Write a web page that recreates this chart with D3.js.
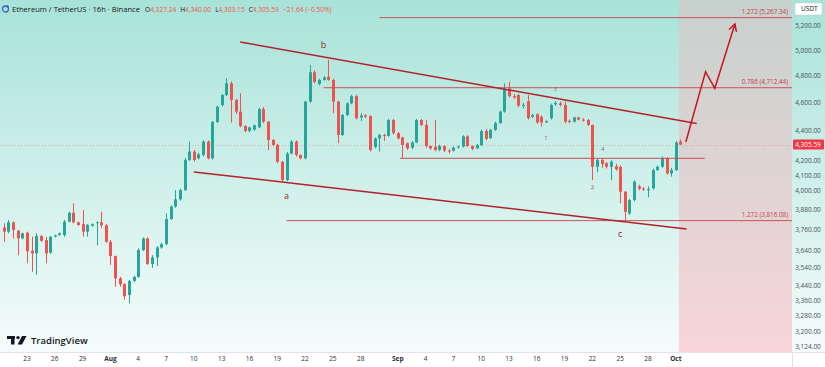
<!DOCTYPE html>
<html>
<head>
<meta charset="utf-8">
<script src="https://cdn.jsdelivr.net/npm/d3@7"></script>
<style>
  body { margin: 0; background: #ffffff; }
  svg { display: block; font-family: "Open Sans", "Noto Sans", sans-serif; }
</style>
</head>
<body>
<div id="chart"></div>
<script>
// ETH/USDT candles (one bar every 12h, first bar Jul 20 12:00)
var opens = [3775,3750,3806,3756,3710,3744,3638,3623,3724,3700,3627,3720,3730,3730,3810,3864,3806,3795,3750,3785,
  3800,3806,3788,3690,3607,3482,3450,3391,3468,3490,3642,3710,3563,3600,3657,3676,3826,3902,3947,4006,
  4202,4258,4213,4235,4326,4213,4463,4585,4658,4745,4622,4537,4435,4400,4410,4425,4555,4465,4337,4303,
  4190,4070,4245,4326,4235,4213,4610,4830,4740,4771,4795,4771,4610,4372,4513,4597,4650,4495,4510,4505,
  4290,4348,4372,4365,4477,4385,4355,4315,4285,4320,4477,4442,4296,4292,4269,4296,4265,4265,4285,4292,
  4362,4296,4280,4303,4400,4350,4407,4455,4537,4708,4650,4658,4580,4612,4500,4518,4500,4460,4490,4590,
  4597,4585,4470,4465,4495,4480,4477,4442,4157,4202,4180,4157,4160,4157,3995,3860,3943,4030,4015,4005,
  4017,4135,4157,4213,4113,4135,4327.24];
var highs = [3800,3820,3810,3760,3744,3750,3720,3740,3730,3720,3724,3732,3745,3820,3870,3922,3810,3881,3795,3800,
  3812,3870,3795,3700,3610,3490,3455,3473,3495,3652,3716,3716,3613,3665,3685,3860,3910,4006,4015,4215,
  4326,4270,4250,4335,4335,4470,4580,4665,4785,4760,4630,4670,4440,4430,4445,4565,4570,4470,4345,4310,
  4195,4255,4335,4335,4240,4615,4886,4845,4780,4800,4924,4780,4615,4520,4605,4660,4660,4525,4520,4510,
  4355,4380,4380,4485,4485,4392,4360,4320,4330,4485,4485,4477,4300,4477,4305,4302,4275,4292,4300,4370,
  4370,4300,4310,4408,4415,4415,4465,4545,4745,4758,4665,4665,4600,4658,4520,4525,4510,4475,4595,4615,
  4610,4610,4480,4500,4500,4490,4485,4445,4210,4215,4190,4200,4175,4165,4000,3950,4068,4040,4025,4030,
  4145,4165,4225,4222,4150,4330,4340];
var lows = [3690,3740,3710,3613,3704,3567,3519,3501,3690,3567,3620,3716,3725,3720,3805,3800,3785,3720,3720,3780,
  3671,3770,3684,3557,3436,3436,3365,3347,3460,3485,3636,3557,3540,3552,3650,3670,3820,3895,3940,4000,
  4195,4190,4205,4225,4205,4205,4455,4575,4650,4460,4520,4425,4390,4390,4400,4420,4455,4269,4295,4180,
  4060,4062,4240,4225,4205,4205,4600,4745,4730,4765,4765,4525,4315,4365,4505,4590,4480,4470,4490,4258,
  4280,4258,4330,4360,4375,4340,4213,4270,4275,4315,4435,4285,4270,4260,4260,4255,4245,4258,4280,4285,
  4290,4268,4275,4295,4335,4345,4400,4450,4530,4640,4630,4570,4560,4480,4490,4450,4430,4455,4480,4580,
  4575,4455,4455,4460,4475,4465,4435,4070,4120,4150,4145,4070,4130,3922,3820,3850,3935,4005,4000,3960,
  4010,4130,4150,4105,4092,4128,4303.15];
var closes = [3750,3806,3760,3710,3740,3635,3623,3724,3696,3623,3720,3728,3740,3810,3864,3806,3790,3750,3790,3795,
  3806,3788,3690,3607,3482,3450,3385,3468,3490,3642,3710,3563,3600,3657,3676,3826,3902,3947,4006,4202,
  4258,4202,4240,4326,4213,4463,4573,4658,4745,4622,4537,4435,4400,4425,4440,4555,4465,4337,4303,4190,
  4070,4245,4326,4235,4213,4610,4830,4755,4771,4790,4771,4610,4372,4513,4597,4650,4490,4510,4500,4269,
  4348,4372,4365,4477,4385,4348,4303,4280,4320,4477,4442,4296,4280,4269,4296,4265,4262,4285,4292,4362,
  4296,4276,4303,4400,4345,4407,4455,4537,4708,4650,4640,4580,4585,4490,4513,4460,4460,4468,4585,4600,
  4585,4465,4465,4495,4480,4478,4442,4157,4202,4175,4157,4190,4140,3995,3870,3943,4060,4015,4010,4012,
  4135,4157,4213,4113,4135,4320,4305.59];

// axis ticks
var priceTicks = [5200,5000,4800,4600,4400,4200,4100,4000,3880,3760,3640,3540,3440,3360,3280,3200,3124];
var dateTicks = ["2025-07-23","2025-07-26","2025-07-29","2025-08-01","2025-08-04","2025-08-07","2025-08-10",
  "2025-08-13","2025-08-16","2025-08-19","2025-08-22","2025-08-25","2025-08-28","2025-09-01","2025-09-04",
  "2025-09-07","2025-09-10","2025-09-13","2025-09-16","2025-09-19","2025-09-22","2025-09-25","2025-09-28","2025-10-01"];

// drawings on the chart: [date, price]
var upperTrend = [["2025-08-15T00:00", 5067], ["2025-10-03T06:00", 4452]];
var lowerTrend = [["2025-08-10T00:00", 4123], ["2025-10-02T04:00", 3766]];
var fibLevels = [
  {ratio: "1.272", price: 5267.34, from: "2025-08-30T00:00"},
  {ratio: "0.786", price: 4712.44, from: "2025-08-24T00:00"},
  {ratio: "1.272", price: 3816.08, from: "2025-08-20T00:00"}
];
var supportLine = {price: 4213, from: "2025-09-01T06:00", to: "2025-10-04T03:00"};
var projection = [["2025-10-02T02:00", 4323], ["2025-10-04T05:00", 4834], ["2025-10-05T05:00", 4708], ["2025-10-07T09:00", 5214]];
var waveLabels = [
  {text: "b", date: "2025-08-24T00:00", price: 5043},
  {text: "a", date: "2025-08-20T00:00", price: 3969},
  {text: "c", date: "2025-09-25T00:00", price: 3736}
];
var subLabels = [
  {text: "3", date: "2025-09-18T00:00", price: 4703},
  {text: "1", date: "2025-09-17T00:00", price: 4351},
  {text: "4", date: "2025-09-23T03:00", price: 4276},
  {text: "2", date: "2025-09-22T00:00", price: 4026}
];
var shadeStart = "2025-10-01T08:00";
var lastPrice = 4305.59;

function createChart(){
	var W = 825, H = 367;
	var plotRight = 792, plotBottom = 352;
	var firstBar = Date.UTC(2025, 6, 20, 12);
	var barStep = 12 * 3600 * 1000;
	var green = "#26a69a", red = "#ef5350", lineRed = "#b3202a";

	function toDate(s){ return new Date(s + (s.length > 10 ? ":00Z" : "T00:00:00Z")); }

	var svg = d3.select("#chart").append("svg")
				.attr("width", W)
				.attr("height", H);
	var defs = svg.append("defs");

	// background gradients
	var bg = defs.append("linearGradient").attr("id", "bgGrad")
				.attr("x1", 0).attr("y1", 0).attr("x2", 0).attr("y2", 1);
	bg.append("stop").attr("offset", "0%").attr("stop-color", "#a8e3d8");
	bg.append("stop").attr("offset", "100%").attr("stop-color", "#f5fcfb");
	var sh = defs.append("linearGradient").attr("id", "shadeGrad")
				.attr("x1", 0).attr("y1", 0).attr("x2", 0).attr("y2", 1);
	sh.append("stop").attr("offset", "0%").attr("stop-color", "#c7d1ce");
	sh.append("stop").attr("offset", "100%").attr("stop-color", "#f8d5d9");

	var clip = defs.append("clipPath").attr("id", "plotClip");
	clip.append("rect").attr("width", plotRight).attr("height", plotBottom);

	// scales
	var xScale = d3.scaleUtc()
				.domain([toDate("2025-07-23"), toDate("2025-09-28")])
				.range([27, 648]);
	var yScale = d3.scaleLog()
				.domain([3124, 5200])
				.range([346.7, 25.7]);

	svg.append("rect").attr("width", W).attr("height", plotBottom).attr("fill", "url(#bgGrad)");

	var plot = svg.append("g").attr("clip-path", "url(#plotClip)");

	// shaded future zone
	plot.append("rect")
		.attr("x", xScale(toDate(shadeStart)))
		.attr("y", 0)
		.attr("width", plotRight - xScale(toDate(shadeStart)))
		.attr("height", plotBottom)
		.attr("fill", "url(#shadeGrad)");

	// last price dotted line
	plot.append("line")
		.attr("x1", 0).attr("x2", plotRight)
		.attr("y1", Math.round(yScale(lastPrice)) + 0.5).attr("y2", Math.round(yScale(lastPrice)) + 0.5)
		.attr("stroke", "#e06666").attr("stroke-opacity", 0.45)
		.attr("stroke-dasharray", "1,2");

	// candles
	var candles = opens.map(function(o, i){
		return {t: new Date(firstBar + i * barStep), o: o, h: highs[i], l: lows[i], c: closes[i]};
	});
	function col(d){ return d.c >= d.o ? green : red; }

	plot.selectAll(".wick").data(candles).enter().append("line")
		.attr("class", "wick")
		.attr("x1", function(d){ return Math.round(xScale(d.t)) + 0.5; })
		.attr("x2", function(d){ return Math.round(xScale(d.t)) + 0.5; })
		.attr("y1", function(d){ return yScale(d.h); })
		.attr("y2", function(d){ return yScale(d.l); })
		.attr("stroke", col)
		.attr("stroke-width", 1);
	plot.selectAll(".body").data(candles).enter().append("rect")
		.attr("class", "body")
		.attr("x", function(d){ return Math.round(xScale(d.t)) - 1; })
		.attr("width", 3)
		.attr("y", function(d){ return yScale(Math.max(d.o, d.c)); })
		.attr("height", function(d){ return Math.max(1, yScale(Math.min(d.o, d.c)) - yScale(Math.max(d.o, d.c))); })
		.attr("fill", col);

	// fib levels
	fibLevels.forEach(function(f){
		var y = yScale(f.price);
		plot.append("line")
			.attr("x1", xScale(toDate(f.from))).attr("x2", plotRight)
			.attr("y1", y).attr("y2", y)
			.attr("stroke", "#c9535a").attr("stroke-width", 1);
		plot.append("text")
			.attr("x", 788).attr("y", y - 4)
			.attr("text-anchor", "end")
			.attr("font-size", "6.3px")
			.attr("fill", "#c2414b")
			.text(f.ratio + " (" + d3.format(",.2f")(f.price) + ")");
	});

	// horizontal support
	plot.append("line")
		.attr("x1", xScale(toDate(supportLine.from))).attr("x2", xScale(toDate(supportLine.to)))
		.attr("y1", yScale(supportLine.price)).attr("y2", yScale(supportLine.price))
		.attr("stroke", "#cf4a52").attr("stroke-width", 1);

	// trend channel
	var line = d3.line()
				.x(function(d){ return xScale(toDate(d[0])); })
				.y(function(d){ return yScale(d[1]); });
	[upperTrend, lowerTrend].forEach(function(t){
		plot.append("path")
			.attr("d", line(t))
			.attr("fill", "none")
			.attr("stroke", lineRed)
			.attr("stroke-width", 1.5);
	});

	// projected path with arrow head
	plot.append("path")
		.attr("d", line(projection))
		.attr("fill", "none")
		.attr("stroke", "#c8161f")
		.attr("stroke-width", 1.5)
		.attr("stroke-linejoin", "miter");
	var tip = projection[projection.length - 1], prev = projection[projection.length - 2];
	var tx = xScale(toDate(tip[0])), ty = yScale(tip[1]);
	var ang = Math.atan2(ty - yScale(prev[1]), tx - xScale(toDate(prev[0])));
	var headLen = 8;
	plot.append("path")
		.attr("d", "M" + (tx - headLen * Math.cos(ang - 0.5)) + "," + (ty - headLen * Math.sin(ang - 0.5)) +
				"L" + tx + "," + ty +
				"L" + (tx - headLen * Math.cos(ang + 0.5)) + "," + (ty - headLen * Math.sin(ang + 0.5)))
		.attr("fill", "none")
		.attr("stroke", "#c8161f")
		.attr("stroke-width", 1.5);

	// wave labels
	plot.selectAll(".wave").data(waveLabels).enter().append("text")
		.attr("x", function(d){ return xScale(toDate(d.date)); })
		.attr("y", function(d){ return yScale(d.price); })
		.attr("dy", "0.35em")
		.attr("text-anchor", "middle")
		.attr("font-size", "9px")
		.attr("fill", "#8e2a2a")
		.text(function(d){ return d.text; });
	plot.selectAll(".sub").data(subLabels).enter().append("text")
		.attr("x", function(d){ return xScale(toDate(d.date)); })
		.attr("y", function(d){ return yScale(d.price); })
		.attr("dy", "0.35em")
		.attr("text-anchor", "middle")
		.attr("font-size", "6px")
		.attr("fill", "#9a5a5a")
		.text(function(d){ return d.text; });

	// price axis
	var axisX = 808;
	svg.selectAll(".ptick").data(priceTicks).enter().append("text")
		.attr("x", axisX).attr("y", function(d){ return yScale(d); })
		.attr("dy", "0.35em")
		.attr("text-anchor", "middle")
		.attr("font-size", "6.5px")
		.attr("fill", "#4a4f5a")
		.text(function(d){ return d3.format(",.2f")(d); });
	svg.append("rect").attr("x", 795).attr("y", 3).attr("width", 27).attr("height", 12)
		.attr("fill", "#ffffff").attr("stroke", "#c8ccd0").attr("stroke-width", 0.5);
	svg.append("text").attr("x", 801).attr("y", 9).attr("dy", "0.35em")
		.attr("font-size", "6.5px").attr("fill", "#131722").text("USDT");
	var ly = yScale(lastPrice);
	svg.append("rect").attr("x", 793).attr("y", ly - 5).attr("width", 31).attr("height", 10)
		.attr("fill", "#f23645").attr("rx", 1);
	svg.append("text").attr("x", axisX).attr("y", ly).attr("dy", "0.35em")
		.attr("text-anchor", "middle").attr("font-size", "6.5px").attr("fill", "#ffffff")
		.text(d3.format(",.2f")(lastPrice));

	// time axis
	svg.append("rect").attr("x", 0).attr("y", plotBottom).attr("width", W).attr("height", H - plotBottom).attr("fill", "#ffffff");
	svg.append("line").attr("x1", 0).attr("x2", W).attr("y1", plotBottom + 0.5).attr("y2", plotBottom + 0.5)
		.attr("stroke", "#e0e3e8");
	svg.append("line").attr("x1", plotRight + 0.5).attr("x2", plotRight + 0.5).attr("y1", plotBottom).attr("y2", H)
		.attr("stroke", "#e0e3e8");
	var monthFmt = d3.utcFormat("%b");
	svg.selectAll(".dtick").data(dateTicks).enter().append("text")
		.attr("x", function(d){ return xScale(toDate(d)); })
		.attr("y", 359)
		.attr("dy", "0.35em")
		.attr("text-anchor", "middle")
		.attr("font-size", "6.5px")
		.attr("font-weight", function(d){ return toDate(d).getUTCDate() === 1 ? "bold" : "normal"; })
		.attr("fill", "#2a2e39")
		.text(function(d){ var t = toDate(d); return t.getUTCDate() === 1 ? monthFmt(t) : t.getUTCDate(); });

	// header
	svg.append("circle").attr("cx", 5.5).attr("cy", 9).attr("r", 3).attr("fill", "none")
		.attr("stroke", "#3b63c9").attr("stroke-width", 1.3);
	svg.append("circle").attr("cx", 7.5).attr("cy", 6.5).attr("r", 1.3).attr("fill", "#3b63c9");
	var header = svg.append("text").attr("x", 12).attr("y", 9).attr("dy", "0.35em").attr("font-size", "7.6px");
	header.append("tspan").attr("fill", "#131722").text("Ethereum / TetherUS · 16h · Binance");
	var ohlc = [["O", "4,327.24"], ["H", "4,340.00"], ["L", "4,303.15"], ["C", "4,305.59"]];
	ohlc.forEach(function(p, i){
		header.append("tspan").attr("fill", "#131722").attr("dx", i === 0 ? 5 : 4).attr("font-size", "6.6px").text(p[0]);
		header.append("tspan").attr("fill", red).attr("font-size", "6.6px").text(p[1]);
	});
	header.append("tspan").attr("fill", red).attr("dx", 4).attr("font-size", "6.6px").text("−21.64 (−0.50%)");

	// TradingView logo
	var logo = svg.append("g").attr("fill", "#131722");
	logo.append("rect").attr("x", 7).attr("y", 336).attr("width", 8).attr("height", 3);
	logo.append("rect").attr("x", 11).attr("y", 336).attr("width", 3.5).attr("height", 8.5);
	logo.append("circle").attr("cx", 18).attr("cy", 337.6).attr("r", 1.7);
	logo.append("path").attr("d", "M22,336 L26.5,336 L22,344.5 L17.6,344.5 Z");
	svg.append("text").attr("x", 31).attr("y", 340.5).attr("dy", "0.35em")
		.attr("font-size", "9.5px").attr("font-weight", "600").attr("fill", "#131722")
		.text("TradingView");
}
createChart();
</script>
</body>
</html>
